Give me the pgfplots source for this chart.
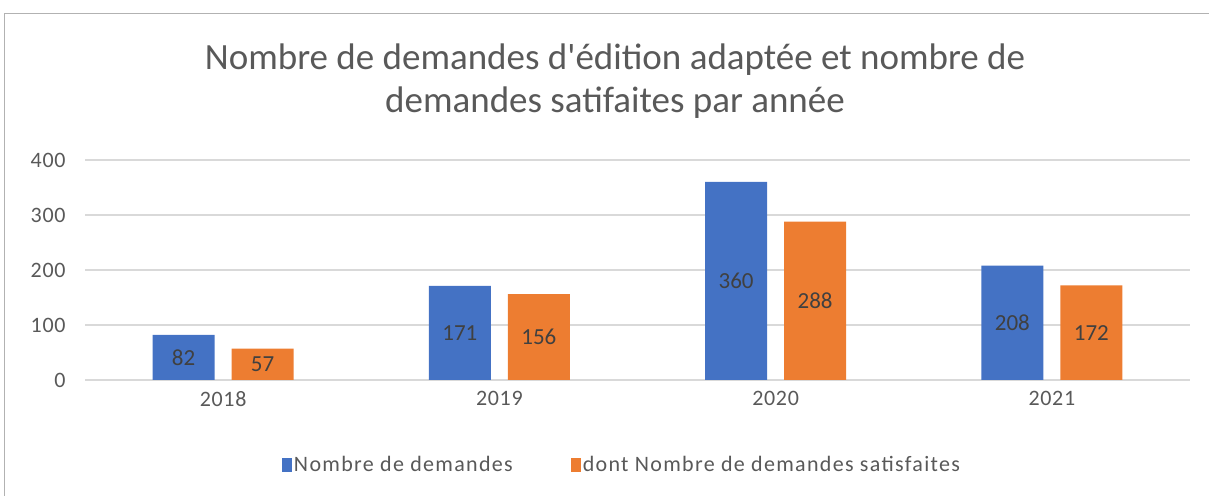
\documentclass[border=0pt]{standalone}
\usepackage{pgfplots}
\pgfplotsset{compat=1.18}
\usepackage{fontspec}
\setmainfont{Carlito}
\newfontfamily\spfont[LetterSpace=6]{Carlito}
\newfontfamily\tkfont[LetterSpace=3]{Carlito}
\definecolor{cblue}{HTML}{4472C4}
\definecolor{corange}{HTML}{ED7D31}
\definecolor{tgray}{HTML}{595959}
\definecolor{lgray}{HTML}{404040}
\definecolor{ggray}{HTML}{D9D9D9}
\begin{document}
\begin{tikzpicture}[x=1bp,y=1bp]
\path[use as bounding box] (0,0) rectangle (1209,496);
\draw[color=black!30, line width=1.5bp] (4.5,0) -- (4.5,482.5) -- (1209,482.5);
\node[font=\fontsize{37bp}{43bp}\selectfont, text=tgray, align=center] at (615,414.5)
  {Nombre de demandes d\textquotesingle édition adaptée et nombre de\\demandes satifaites par année};
\begin{axis}[
  at={(85bp,116bp)}, anchor=south west,
  scale only axis, width=1105bp, height=220bp,
  ybar=17bp, bar width=62bp,
  xmin=-0.5, xmax=3.5, ymin=0, ymax=400,
  xtick={0,1,2,3}, xticklabels={2018,2019,2020,2021},
  ytick={0,100,200,300,400},
  ymajorgrids, grid style={ggray, line width=1.5bp},
  axis line style={draw=none},
  major tick length=0pt,
  tick label style={font=\tkfont\fontsize{22bp}{26bp}\selectfont, text=tgray},
  /pgf/number format/assume math mode=true,
  yticklabel style={xshift=-16bp},
  xticklabel style={yshift=-8bp},
  nodes near coords,
  visualization depends on=y \as \rawy,
  every node near coord/.append style={shift={(axis direction cs:0,-\rawy/2)}, anchor=center,
    font=\fontsize{23bp}{27bp}\selectfont, text=lgray},
  legend style={at={(0.486,-0.386)}, anchor=center, draw=none, legend columns=2,
    font=\spfont\fontsize{22bp}{26bp}\selectfont, text=tgray,
    /tikz/every even column/.append style={column sep=56bp}},
  legend image code/.code={\fill[#1] (0bp,-7bp) rectangle (10bp,7bp);},
]
\addplot[fill=cblue, draw=none] coordinates {(0,82) (1,171) (2,360) (3,208)};
\addplot[fill=corange, draw=none] coordinates {(0,57) (1,156) (2,288) (3,172)};
\legend{Nombre de demandes, dont Nombre de demandes satisfaites}
\end{axis}
\end{tikzpicture}
\end{document}
